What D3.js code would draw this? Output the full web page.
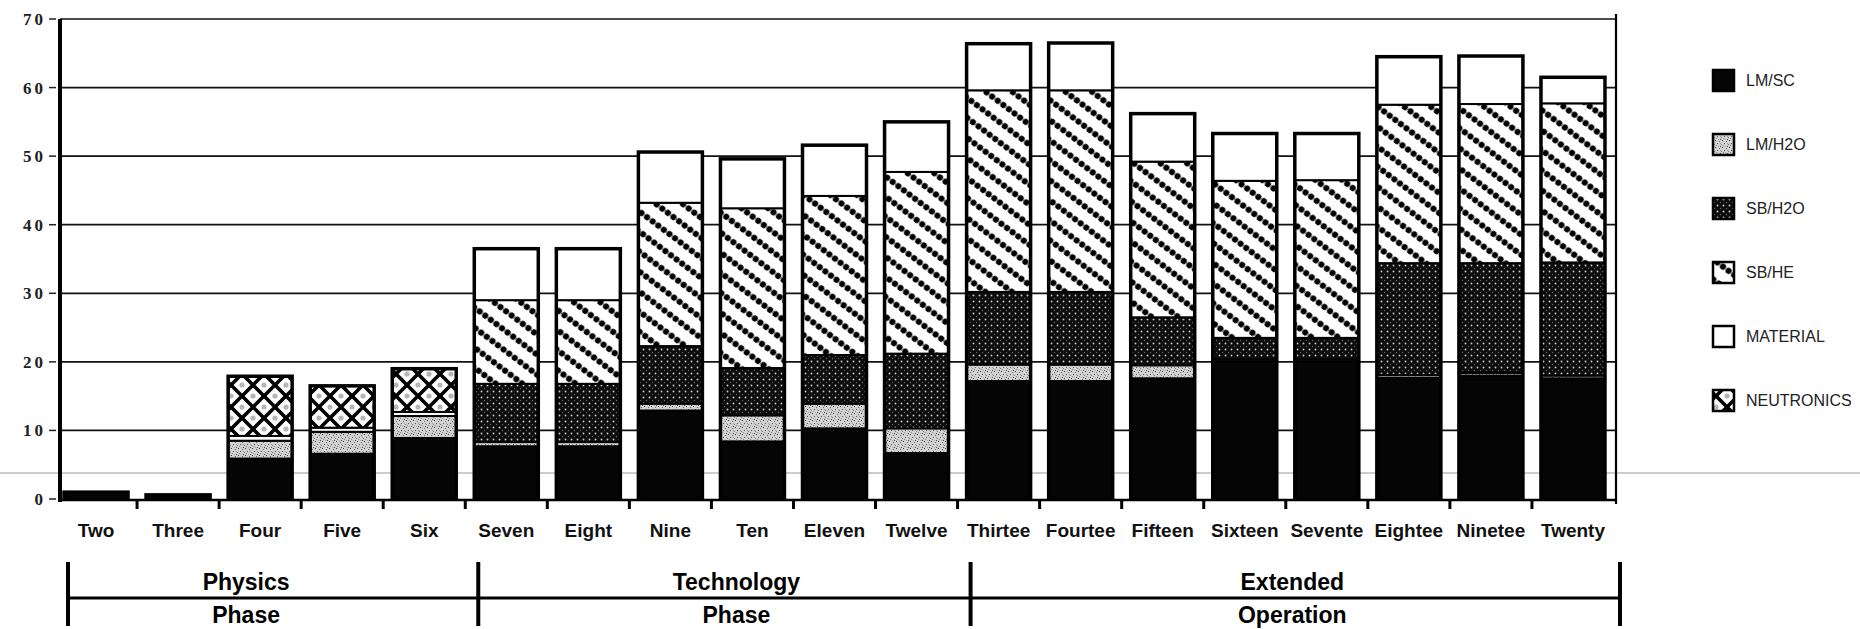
<!DOCTYPE html>
<html><head><meta charset="utf-8">
<script src="https://cdn.jsdelivr.net/npm/d3@7/dist/d3.min.js"></script>
<style>html,body{margin:0;padding:0;background:#fff;overflow:hidden}</style>
</head><body>
<svg id="c" width="1860" height="629"></svg>
<script>
// ---------- data ----------
const categories = ["Two","Three","Four","Five","Six","Seven","Eight","Nine","Ten","Eleven","Twelve",
  "Thirtee","Fourtee","Fifteen","Sixteen","Sevente","Eightee","Ninetee","Twenty"];
const seriesNames = ["LM/SC","LM/H2O","SB/H2O","SB/HE","MATERIAL","NEUTRONICS"];
const lmSC      = [1.0,0.6,5.9,6.6,8.9,7.7,7.7,12.9,8.4,10.3,6.7,17.2,17.2,17.6,20.1,20.1,17.7,18.0,17.6];
const lmH2O     = [0,0,2.6,3.2,3.2,0.6,0.6,1.0,3.8,3.6,3.6,2.4,2.4,1.9,0.3,0.3,0.4,0.4,0.4];
const sbH2O     = [0,0,0,0,0,8.5,8.5,8.4,6.9,7.1,10.9,10.6,10.6,7.0,3.1,3.1,16.3,16.0,16.5];
const sbHE      = [0,0,0,0,0,12.2,12.2,20.9,23.3,23.2,26.5,29.4,29.4,22.7,22.9,23.0,23.1,23.2,23.2];
const material  = [0,0,0.7,0.6,0.6,7.5,7.5,7.4,7.2,7.4,7.3,6.8,6.9,7.0,6.9,6.8,7.0,7.0,3.8];
const neutronics= [0,0,8.7,6.1,6.3,0,0,0,0,0,0,0,0,0,0,0,0,0,0];
const yTicks = [0,10,20,30,40,50,60,70];
const groupTop    = ["Physics","Technology","Extended"];
const groupBottom = ["Phase","Phase","Operation"];
const groupFirst  = ["Two","Seven","Thirtee"];

// ---------- build table ----------
const seriesArrays = [lmSC,lmH2O,sbH2O,sbHE,material,neutronics];
const table = categories.map((c,i)=>{
  const row = {cat:c};
  seriesNames.forEach((s,j)=>row[s]=seriesArrays[j][i]);
  return row;
});
const stacked = d3.stack().keys(seriesNames)(table);

const svg = d3.select("#c");
const x = d3.scaleBand().domain(categories).range([55,1614]).paddingInner(0.22).paddingOuter(0.11);
const y = d3.scaleLinear().domain([0,70]).range([499,19]);
const step = x.step(), gap = (step - x.bandwidth())/2;

// ---------- patterns ----------
const defs = svg.append("defs");
// LM/H2O light grey speckle
let p = defs.append("pattern").attr("id","p1").attr("patternUnits","userSpaceOnUse").attr("width",7).attr("height",7);
p.append("rect").attr("width",7).attr("height",7).attr("fill","#d2d2d2");
[[0,0,"#3a3a3a"],[4,1,"#666"],[2,3,"#555"],[6,4,"#777"],[1,5,"#888"],[5,6,"#4a4a4a"],[3,6,"#aaa"],[5,3,"#999"]]
  .forEach(d=>p.append("rect").attr("x",d[0]).attr("y",d[1]).attr("width",1).attr("height",1).attr("fill",d[2]));
// SB/H2O dark stipple
p = defs.append("pattern").attr("id","p2").attr("patternUnits","userSpaceOnUse").attr("width",6).attr("height",6);
p.append("rect").attr("width",6).attr("height",6).attr("fill","#0c0c0c");
p.append("circle").attr("cx",1.5).attr("cy",1.5).attr("r",0.95).attr("fill","#c8c8c8");
p.append("circle").attr("cx",4.5).attr("cy",4.5).attr("r",0.7).attr("fill","#6a6a6a");
// SB/HE diagonal dotted stripes
p = defs.append("pattern").attr("id","p3").attr("patternUnits","userSpaceOnUse").attr("width",7).attr("height",16).attr("patternTransform","rotate(37)");
p.append("rect").attr("width",7).attr("height",16).attr("fill","#fff");
p.append("circle").attr("cx",3.5).attr("cy",8).attr("r",3.1).attr("fill","#000");
// NEUTRONICS crosshatch
p = defs.append("pattern").attr("id","p5").attr("patternUnits","userSpaceOnUse").attr("width",22).attr("height",22);
p.append("rect").attr("width",22).attr("height",22).attr("fill","#fff");
[[11,0],[0,11],[22,11],[11,22]].forEach(d=>p.append("circle").attr("cx",d[0]).attr("cy",d[1]).attr("r",2.6).attr("fill","#b5b5b5"));
p.append("path").attr("d","M0,0L22,22M-5,17L5,27M17,-5L27,5M22,0L0,22M-5,5L5,-5M17,27L27,17")
  .attr("stroke","#000").attr("stroke-width",3.6).attr("fill","none");

const fills = {"LM/SC":"#050505","LM/H2O":"url(#p1)","SB/H2O":"url(#p2)","SB/HE":"url(#p3)","MATERIAL":"#fff","NEUTRONICS":"url(#p5)"};

// ---------- scan artefact line ----------
svg.append("line").attr("x1",0).attr("x2",1860).attr("y1",473).attr("y2",473).attr("stroke","#999").attr("stroke-width",1);

// ---------- grid ----------
svg.append("g").selectAll("line").data(yTicks.filter(d=>d>0)).join("line")
  .attr("x1",60).attr("x2",x.range()[1]+2).attr("y1",d=>y(d)).attr("y2",d=>y(d))
  .attr("stroke","#111").attr("stroke-width",1.7);

// right border
svg.append("line").attr("x1",x.range()[1]+2).attr("x2",x.range()[1]+2).attr("y1",y(70)-5).attr("y2",y(0)+5)
  .attr("stroke","#000").attr("stroke-width",2.2);

// ---------- bars ----------
const gBars = svg.append("g");
stacked.forEach(layer=>{
  gBars.append("g").selectAll("rect").data(layer.filter(d=>d[1]-d[0]>0)).join("rect")
    .attr("x",d=>x(d.data.cat)).attr("width",x.bandwidth())
    .attr("y",d=>y(d[1])).attr("height",d=>y(d[0])-y(d[1]))
    .attr("fill",fills[layer.key]).attr("stroke","#000").attr("stroke-width",2);
});
// outlines
gBars.append("g").selectAll("rect").data(table).join("rect")
  .attr("x",d=>x(d.cat)).attr("width",x.bandwidth())
  .attr("y",d=>y(d3.sum(seriesNames,s=>d[s]))).attr("height",d=>y(0)-y(d3.sum(seriesNames,s=>d[s])))
  .attr("fill","none").attr("stroke","#000").attr("stroke-width",3.5);

// ---------- axes ----------
svg.append("line").attr("x1",60).attr("x2",60).attr("y1",y(70)).attr("y2",y(0)+3).attr("stroke","#000").attr("stroke-width",4);
svg.append("line").attr("x1",58).attr("x2",x.range()[1]+2).attr("y1",y(0)+1).attr("y2",y(0)+1).attr("stroke","#000").attr("stroke-width",2.5);
// x ticks between categories
svg.append("g").selectAll("line").data(categories.slice(1)).join("line")
  .attr("x1",d=>x(d)-gap).attr("x2",d=>x(d)-gap).attr("y1",y(0)).attr("y2",y(0)+10)
  .attr("stroke","#000").attr("stroke-width",3);
// y ticks
svg.append("g").selectAll("line").data(yTicks).join("line")
  .attr("x1",49).attr("x2",56).attr("y1",d=>y(d)).attr("y2",d=>y(d)).attr("stroke","#222").attr("stroke-width",1.5);
svg.append("g").selectAll("text").data(yTicks).join("text")
  .attr("x",46).attr("y",d=>y(d)+6).attr("text-anchor","end")
  .attr("font-family","Liberation Serif, serif").attr("font-size",17).attr("font-weight","bold")
  .attr("letter-spacing",3).attr("fill","#222").text(d=>d);
// x labels
svg.append("g").selectAll("text").data(categories).join("text")
  .attr("x",d=>x(d)+x.bandwidth()/2).attr("y",537).attr("text-anchor","middle")
  .attr("font-family","Liberation Sans, Arial, sans-serif").attr("font-size",19).attr("font-weight","bold")
  .attr("fill","#111").text(d=>d);

// ---------- group brackets ----------
const starts = groupFirst.map(c=>x(c)-gap+13);
const ends = starts.slice(1).concat([x.range()[1]+6]);
const gG = svg.append("g");
gG.append("line").attr("x1",starts[0]).attr("x2",ends[ends.length-1]).attr("y1",598).attr("y2",598).attr("stroke","#000").attr("stroke-width",3);
gG.selectAll("line.v").data(starts.concat([ends[ends.length-1]])).join("line").attr("class","v")
  .attr("x1",d=>d).attr("x2",d=>d).attr("y1",562).attr("y2",626).attr("stroke","#000").attr("stroke-width",4);
const labelShift = [-27,12,-3];
groupTop.forEach((t,i)=>{
  const cx = (starts[i]+ends[i])/2 + labelShift[i];
  gG.append("text").attr("x",cx).attr("y",590).attr("text-anchor","middle")
    .attr("font-family","Liberation Sans, Arial, sans-serif").attr("font-size",23).attr("font-weight","bold").text(t);
  gG.append("text").attr("x",cx).attr("y",623).attr("text-anchor","middle")
    .attr("font-family","Liberation Sans, Arial, sans-serif").attr("font-size",23).attr("font-weight","bold").text(groupBottom[i]);
});

// ---------- legend ----------
const lg = svg.append("g");
seriesNames.forEach((s,i)=>{
  const cy = 80 + i*64;
  lg.append("rect").attr("x",1713).attr("y",cy-10).attr("width",21).attr("height",21)
    .attr("fill",fills[s]).attr("stroke","#000").attr("stroke-width",2.5);
  lg.append("text").attr("x",1746).attr("y",cy+6).attr("font-family","Liberation Sans, Arial, sans-serif")
    .attr("font-size",16).attr("fill","#222").text(s);
});
</script>
</body></html>
